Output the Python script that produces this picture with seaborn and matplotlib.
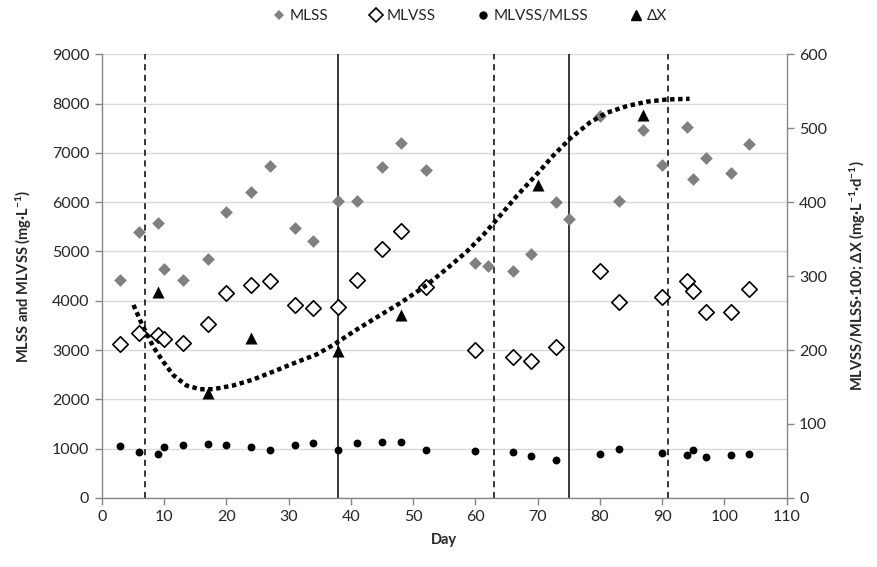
import numpy as np
import pandas as pd
import matplotlib
matplotlib.use("Agg")
import matplotlib.pyplot as plt
import seaborn as sns
from matplotlib.lines import Line2D

day_mlss = [3, 6, 9, 10, 13, 17, 20, 24, 27, 31, 34, 38, 41, 45, 48, 52, 60, 62, 66, 69, 73, 75,
            80, 83, 87, 90, 94, 95, 97, 101, 104]
mlss = [4430, 5400, 5580, 4650, 4420, 4840, 5810, 6210, 6730, 5480, 5220, 6030, 6030, 6710, 7200, 6650,
        4770, 4700, 4600, 4950, 6000, 5660, 7760, 6030, 7460, 6750, 7530, 6470, 6900, 6590, 7180]
day_mlvss = [3, 6, 9, 10, 13, 17, 20, 24, 27, 31, 34, 38, 41, 45, 48, 52, 60, 66, 69, 73,
             80, 83, 90, 94, 95, 97, 101, 104]
mlvss = [3130, 3340, 3300, 3220, 3140, 3530, 4150, 4310, 4400, 3910, 3850, 3880, 4430, 5060, 5420, 4270,
         3010, 2860, 2780, 3060, 4610, 3980, 4080, 4400, 4200, 3780, 3780, 4230]
ratio = [70.4, 61.8, 58.7, 69.0, 70.9, 72.7, 71.3, 69.0, 65.0, 70.9, 73.6, 64.1, 73.6, 75.4, 75.0, 64.1,
         63.2, 62.3, 56.4, 51.0, 59.1, 65.9, 60.5, 58.2, 64.5, 54.7, 57.3, 58.7]
day_dx = [9, 17, 24, 38, 48, 70, 87]
dx = [278, 142, 216, 199, 247, 423, 518]
# dotted trend line
trend_day = [5.1, 6.4, 8.3, 9.9, 11.5, 13.6, 15.8, 17.9, 21.1, 24.3, 27.6, 30.8, 34.5, 37.2,
             41.0, 44.7, 48.2, 52.2, 55.4, 58.6, 61.3, 64.0, 66.6, 70.1, 72.5, 75.2, 78.4,
             81.1, 84.3, 87.5, 90.7, 94.4]
trend_val = [261, 236, 204, 184, 166, 152, 147, 147, 152, 160, 171, 182, 194, 207,
             228, 247, 265, 288, 310, 333, 356, 382, 408, 440, 463, 486, 508,
             521, 530, 536, 539, 540]
dashed_days = [7, 63, 91]
solid_days = [38, 75]

sns.set_theme(style="white")
plt.rcParams['font.family'] = ['Lato', 'DejaVu Sans']
plt.rcParams['mathtext.fontset'] = 'custom'
plt.rcParams['mathtext.rm'] = 'Lato'
plt.rcParams['mathtext.bf'] = 'Lato:bold'

fig = plt.figure(figsize=(8.77, 5.67), dpi=100)
ax = fig.add_axes([0.116, 0.122, 0.781, 0.782])
ax2 = ax.twinx()

df1 = pd.DataFrame({"day": day_mlss, "v": mlss})
df2 = pd.DataFrame({"day": day_mlvss, "v": mlvss})
df3 = pd.DataFrame({"day": day_mlvss, "v": ratio})
df4 = pd.DataFrame({"day": day_dx, "v": dx})
df5 = pd.DataFrame({"day": trend_day, "v": trend_val})

for d in dashed_days:
    ax.axvline(d, color="black", lw=1.1, ls=(0, (4, 3)), zorder=1)
for d in solid_days:
    ax.axvline(d, color="black", lw=1.1, zorder=1)

sns.scatterplot(data=df1, x="day", y="v", ax=ax, marker="D", s=42, color="#808080",
                edgecolor="#808080", linewidth=0, zorder=3)
sns.scatterplot(data=df2, x="day", y="v", ax=ax, marker="D", s=62, facecolor="white",
                edgecolor="black", linewidth=1.2, zorder=3)

sns.lineplot(data=df5, x="day", y="v", ax=ax2, color="black", lw=3.2, sort=False,
             ls=(0, (1, 0.8)), dash_capstyle="butt", zorder=4)
sns.scatterplot(data=df3, x="day", y="v", ax=ax2, marker="o", s=32, color="black",
                edgecolor="black", linewidth=0, zorder=5)
sns.scatterplot(data=df4, x="day", y="v", ax=ax2, marker="^", s=75, color="black",
                edgecolor="black", linewidth=0, zorder=5)

ax.set_xlim(0, 110)
ax2.set_xlim(0, 110)
ax.set_ylim(0, 9000)
ax2.set_ylim(0, 600)
ax.set_xticks(range(0, 111, 10))
ax.set_yticks(range(0, 9001, 1000))
ax2.set_yticks(range(0, 601, 100))
ax.yaxis.grid(True, color="#d9d9d9", lw=1)
ax.set_axisbelow(True)

for a in (ax, ax2):
    for s in a.spines.values():
        s.set_visible(False)
ax.spines['left'].set_visible(True)
ax.spines['bottom'].set_visible(True)
ax2.spines['right'].set_visible(True)
for s in (ax.spines['left'], ax.spines['bottom'], ax2.spines['right']):
    s.set_color("#868686")
    s.set_linewidth(1)
ax.tick_params(axis="both", which="major", direction="out", length=5, width=1, color="#868686",
               labelsize=11.5, pad=4, left=True, bottom=True)
ax2.tick_params(axis="y", direction="out", length=5, width=1, color="#868686", labelsize=11.5,
                right=True, pad=4)

ax.set_xlabel("Day", fontsize=10.5, fontweight="bold", labelpad=6)
ax.set_ylabel(r"MLSS and MLVSS (mg·L$\mathbf{^{-1}}$)", fontsize=10.5, fontweight="bold", labelpad=13)
ax2.set_ylabel(r"MLVSS/MLSS·100; ΔX (mg·L$\mathbf{^{-1}}$·d$\mathbf{^{-1}}$)", fontsize=10.5,
               fontweight="bold", labelpad=15)

handles = [
    Line2D([], [], ls="", marker="D", ms=5.5, color="#808080", mew=0),
    Line2D([], [], ls="", marker="D", ms=7, mfc="white", mec="black", mew=1.2),
    Line2D([], [], ls="", marker="o", ms=5, color="black"),
    Line2D([], [], ls="", marker="^", ms=7, color="black"),
]
fig.legend(handles, ["MLSS", "MLVSS", "MLVSS/MLSS", "ΔX"], loc="center", ncol=4,
           bbox_to_anchor=(0.535, 0.972), frameon=False, fontsize=11, handletextpad=0.2,
           columnspacing=2.6, handlelength=1.0)

fig.savefig("out.png", dpi=100)
